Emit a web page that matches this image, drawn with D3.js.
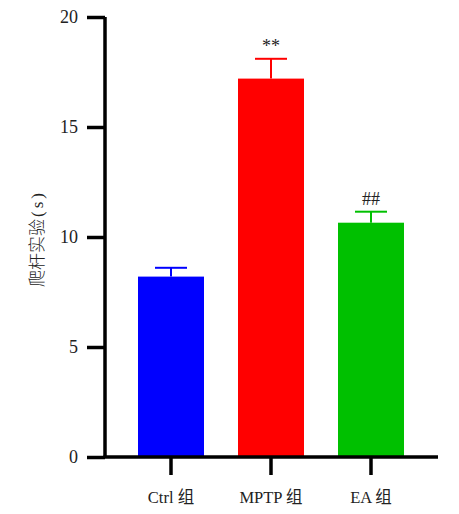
<!DOCTYPE html>
<html>
<head>
<meta charset="utf-8">
<script src="https://cdn.jsdelivr.net/npm/d3@7"></script>
<style>
  body { margin: 0; background: #fff; }
  text { font-family: "Liberation Serif", "Noto Sans CJK SC", serif; fill: #222; }
</style>
</head>
<body>
<div id="chart-container"></div>
<script>
const groups = ["Ctrl 组", "MPTP 组", "EA 组"];
const means = [8.2, 17.2, 10.65];
const errors = [0.4, 0.9, 0.5];
const marks = ["", "**", "##"];
const colors = ["#0000ff", "#ff0000", "#00c000"];
const yTicks = [0, 5, 10, 15, 20];

const svgWidth = 459;
const svgHeight = 514;
const margin = { top: 17, right: 21, bottom: 56, left: 105 };

const svg = d3
  .select("#chart-container")
  .append("svg")
  .attr("width", svgWidth)
  .attr("height", svgHeight);

const y = d3
  .scaleLinear()
  .domain([0, 20])
  .range([svgHeight - margin.bottom - 1, margin.top]);

const x = d3
  .scaleBand()
  .domain(groups)
  .range([margin.left + 16, margin.left + 316])
  .paddingInner(0.34)
  .paddingOuter(0.17);

// bars
svg
  .selectAll(".bar")
  .data(groups)
  .enter()
  .append("rect")
  .attr("class", "bar")
  .attr("x", (d) => x(d))
  .attr("width", x.bandwidth())
  .attr("y", (d, i) => y(means[i]))
  .attr("height", (d, i) => y(0) - y(means[i]))
  .attr("fill", (d, i) => colors[i]);

// error bars
const cap = 16;
groups.forEach((g, i) => {
  const cx = x(g) + x.bandwidth() / 2;
  svg
    .append("line")
    .attr("x1", cx)
    .attr("x2", cx)
    .attr("y1", y(means[i]))
    .attr("y2", y(means[i] + errors[i]))
    .attr("stroke", colors[i])
    .attr("stroke-width", 2);
  svg
    .append("line")
    .attr("x1", cx - cap)
    .attr("x2", cx + cap)
    .attr("y1", y(means[i] + errors[i]))
    .attr("y2", y(means[i] + errors[i]))
    .attr("stroke", colors[i])
    .attr("stroke-width", 2);
  if (marks[i]) {
    svg
      .append("text")
      .attr("x", cx)
      .attr("y", y(means[i] + errors[i]) - 7)
      .attr("text-anchor", "middle")
      .attr("font-size", "18px")
      .text(marks[i]);
  }
});

// y axis
const yAxis = svg
  .append("g")
  .attr("transform", `translate(${margin.left},0)`)
  .call(d3.axisLeft(y).tickValues(yTicks).tickSize(18).tickPadding(9));
yAxis.select(".domain").attr("stroke", "#000").attr("stroke-width", 3.5)
  .attr("d", `M0,${y(20)}V${y(0)}`);
yAxis.selectAll(".tick line").attr("stroke", "#000").attr("stroke-width", 3.5);
yAxis.selectAll(".tick text")
  .attr("font-size", "18px")
  .attr("font-family", "Liberation Serif")
  .attr("fill", "#222");

// x axis
const xAxis = svg
  .append("g")
  .attr("transform", `translate(0,${y(0)})`)
  .call(d3.axisBottom(x).tickSize(18).tickPadding(16));
xAxis.select(".domain").attr("stroke", "#000").attr("stroke-width", 3.5)
  .attr("d", `M${margin.left - 1.5},0H${438}`);
xAxis.selectAll(".tick line").attr("stroke", "#000").attr("stroke-width", 3.5);
xAxis.selectAll(".tick text")
  .attr("font-size", "16.5px")
  .attr("font-family", "Liberation Serif, Noto Sans CJK SC")
  .attr("fill", "#222");

// y label
const yLabel = svg
  .append("text")
  .attr("transform", `translate(43,240) rotate(-90)`)
  .attr("text-anchor", "middle")
  .attr("font-size", "17px")
  .attr("font-family", "Noto Sans CJK SC")
  .attr("font-weight", 300)
  .attr("fill", "#333");
yLabel.append("tspan").text("爬杆实验");
yLabel.append("tspan").attr("dx", 2).text("(");
yLabel.append("tspan").attr("dx", 3).text("s");
yLabel.append("tspan").attr("dx", 3).text(")");
</script>
</body>
</html>
